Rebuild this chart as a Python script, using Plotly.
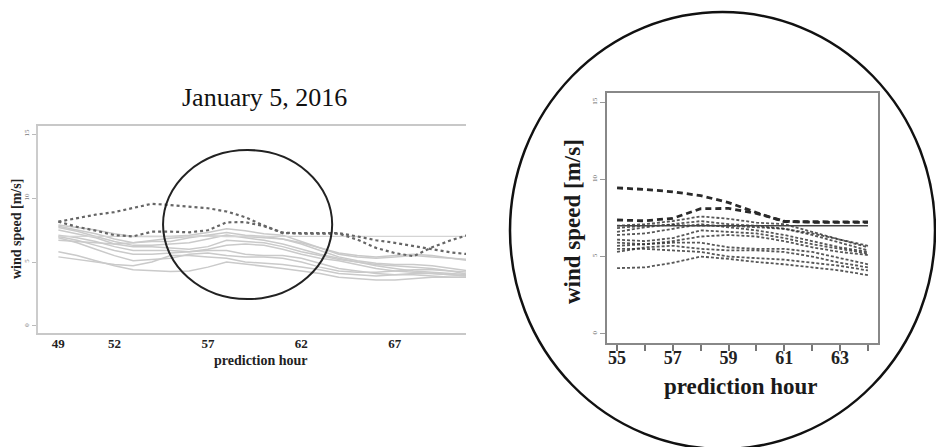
import plotly.graph_objects as go

# forecast lead times (hours)
hours = list(range(49, 73))

# ensemble members, wind speed [m/s]
member_01 = [7.9, 7.7, 7.5, 7.2, 7.0, 7.0, 7.0, 7.1, 7.3, 7.6, 7.45, 7.2, 7.1, 6.6, 6.1, 5.6, 5.4, 5.3, 5.4, 5.5, 5.4, 5.3, 5.2, 5.1]
member_02 = [7.8, 7.5, 7.2, 6.8, 6.5, 6.6, 6.6, 6.9, 7.1, 7.3, 7.1, 7.0, 6.8, 6.4, 5.9, 5.4, 5.1, 4.9, 4.8, 4.8, 4.7, 4.5, 4.3, 4.2]
member_03 = [7.7, 7.4, 7.0, 6.6, 6.3, 6.3, 6.4, 6.5, 6.8, 7.1, 6.9, 6.7, 6.4, 6.0, 5.6, 5.3, 5.0, 4.8, 4.7, 4.6, 4.5, 4.3, 4.0, 3.9]
member_04 = [7.5, 7.2, 6.9, 6.4, 6.2, 6.2, 6.1, 6.0, 6.2, 6.7, 6.6, 6.5, 6.2, 5.8, 5.5, 5.2, 5.0, 4.7, 4.5, 4.3, 4.2, 4.1, 4.0, 3.9]
member_05 = [7.1, 6.9, 6.6, 6.2, 5.9, 5.9, 5.9, 5.8, 6.0, 6.3, 6.4, 6.3, 6.0, 5.6, 5.3, 5.1, 4.8, 4.5, 4.3, 4.2, 4.1, 4.0, 3.9, 3.9]
member_06 = [7.0, 6.7, 6.3, 5.9, 5.6, 5.6, 5.7, 5.8, 5.9, 5.9, 5.6, 5.5, 5.5, 5.3, 4.9, 4.5, 4.3, 4.1, 4.0, 4.0, 3.9, 3.8, 3.8, 3.7]
member_07 = [6.9, 6.5, 6.0, 5.5, 5.1, 5.2, 5.3, 5.6, 5.7, 5.5, 5.4, 5.4, 5.3, 5.0, 4.6, 4.3, 4.2, 4.2, 4.3, 4.4, 4.4, 4.3, 4.2, 4.1]
member_08 = [5.8, 5.5, 5.1, 4.7, 4.4, 4.3, 4.25, 4.3, 4.6, 5.0, 4.85, 4.65, 4.5, 4.3, 4.1, 3.8, 3.7, 3.6, 3.6, 3.7, 3.8, 3.8, 3.8, 3.8]
member_09 = [5.4, 5.2, 5.0, 4.8, 4.7, 5.0, 5.5, 5.5, 5.4, 5.3, 5.0, 4.9, 4.8, 4.6, 4.4, 4.1, 4.0, 3.9, 4.0, 4.1, 4.1, 4.0, 3.9, 3.8]
member_10 = [6.7, 6.6, 6.5, 6.4, 6.5, 6.7, 6.85, 7.0, 7.05, 7.0, 7.0, 6.9, 6.8, 6.5, 6.1, 5.7, 5.5, 5.4, 5.5, 5.6, 5.5, 5.3, 5.1, 5.0]
members = [member_01, member_02, member_03, member_04, member_05,
           member_06, member_07, member_08, member_09, member_10]

# the two highlighted members
highlight_a = [8.15, 8.45, 8.7, 8.9, 9.2, 9.55, 9.45, 9.35, 9.2, 8.95, 8.5, 7.85, 7.26, 7.25, 7.25, 7.25, 7.0, 6.7, 6.5, 6.25, 5.95, 5.75, 5.6, 5.5]
highlight_b = [8.15, 7.75, 7.45, 7.1, 7.0, 7.37, 7.37, 7.32, 7.48, 8.1, 8.12, 7.8, 7.3, 7.22, 7.22, 7.22, 6.75, 6.1, 5.7, 5.45, 6.15, 6.7, 7.15, 7.6]

# reference wind speed
threshold = 7.0

# axis ticks
left_ticks = [49, 52, 57, 62, 67]
right_ticks = list(range(55, 65))
right_labels = ["55", "", "57", "", "59", "", "61", "", "63", ""]
y_ticks = [0, 5, 10, 15]

# zoomed window
zoom_lo, zoom_hi = 55, 64
i0, i1 = hours.index(zoom_lo), hours.index(zoom_hi) + 1
zoom_hours = hours[i0:i1]

W, H = 936, 447
SERIF = "Liberation Serif"


def px_x(p):
    return p / W


def px_y(p):
    return 1 - p / H


fig = go.Figure()

# ---- full forecast panel ----
for m in members:
    fig.add_trace(go.Scatter(x=hours, y=m, mode="lines", xaxis="x", yaxis="y",
                             line=dict(color="#cacaca", width=1.5), showlegend=False,
                             hoverinfo="skip"))
fig.add_trace(go.Scatter(x=[hours[0], hours[-1]], y=[threshold, threshold], mode="lines",
                         xaxis="x", yaxis="y", line=dict(color="#d4d4d4", width=1.4),
                         showlegend=False, hoverinfo="skip"))
for h in (highlight_a, highlight_b):
    fig.add_trace(go.Scatter(x=hours, y=h, mode="lines", xaxis="x", yaxis="y",
                             line=dict(color="#666666", width=2.2, dash="3px,3px"),
                             showlegend=False, hoverinfo="skip"))

# ---- zoomed panel ----
for m in members:
    fig.add_trace(go.Scatter(x=zoom_hours, y=m[i0:i1], mode="lines", xaxis="x2", yaxis="y2",
                             line=dict(color="rgba(45,45,45,0.8)", width=1.8, dash="3px,2px"),
                             showlegend=False, hoverinfo="skip"))
fig.add_trace(go.Scatter(x=[zoom_lo, zoom_hi], y=[threshold, threshold], mode="lines",
                         xaxis="x2", yaxis="y2", line=dict(color="#444444", width=1.6),
                         showlegend=False, hoverinfo="skip"))
for h in (highlight_a, highlight_b):
    fig.add_trace(go.Scatter(x=zoom_hours, y=h[i0:i1], mode="lines", xaxis="x2", yaxis="y2",
                             line=dict(color="#2a2a2a", width=2.8, dash="6px,4px"),
                             showlegend=False, hoverinfo="skip"))

axis_common = dict(showgrid=False, zeroline=False, showline=True)

fig.update_layout(
    width=W, height=H,
    margin=dict(l=0, r=0, t=0, b=0),
    paper_bgcolor="white", plot_bgcolor="white",
    font=dict(family=SERIF, color="#222222"),
    xaxis=dict(domain=[px_x(38), px_x(466)], range=[47.91, 70.81], anchor="y",
               tickvals=left_ticks, ticktext=[f"<b>{t}</b>" for t in left_ticks],
               ticks="", ticklabelstandoff=-3,
               tickfont=dict(size=13, family=SERIF, color="#222"),
               linecolor="#c8c8c8", linewidth=2, mirror=True, **axis_common),
    yaxis=dict(domain=[px_y(333), px_y(126)], range=[-0.55, 15.63], anchor="x",
               tickvals=y_ticks, ticks="outside", ticklen=4, tickcolor="#bbbbbb",
               tickangle=-90, tickfont=dict(size=7, family=SERIF, color="#777"),
               linecolor="#cccccc", linewidth=2, mirror=False, **axis_common),
    xaxis2=dict(domain=[px_x(607), px_x(878)], range=[54.64, 64.36], anchor="y2",
                tickvals=right_ticks, ticktext=[f"<b>{t}</b>" if t else "" for t in right_labels],
                ticks="outside", ticklen=6, tickcolor="#777777", tickwidth=1.5,
                ticklabelstandoff=-8,
                tickfont=dict(size=18, family=SERIF, color="#222"),
                linecolor="#888888", linewidth=1.5, mirror=True, **axis_common),
    yaxis2=dict(domain=[px_y(343), px_y(93)], range=[-0.6, 15.6], anchor="x2",
                tickvals=y_ticks, ticks="outside", ticklen=5, tickcolor="#999999",
                tickangle=-90, tickfont=dict(size=7, family=SERIF, color="#666"),
                linecolor="#888888", linewidth=1.5, mirror=True, **axis_common),
)

annotations = [
    dict(text="January 5, 2016", x=px_x(264.5), y=px_y(98), font=dict(size=26, family=SERIF, color="#111")),
    dict(text="<b>wind speed [m/s]</b>", x=px_x(17), y=px_y(229), textangle=-90,
         font=dict(size=14, family=SERIF, color="#222")),
    dict(text="<b>prediction hour</b>", x=px_x(260), y=px_y(360),
         font=dict(size=14, family=SERIF, color="#222")),
    dict(text="<b>wind speed [m/s]</b>", x=px_x(573), y=px_y(222), textangle=-90,
         font=dict(size=23, family=SERIF, color="#1a1a1a")),
    dict(text="<b>prediction hour</b>", x=px_x(741), y=px_y(386),
         font=dict(size=23, family=SERIF, color="#1a1a1a")),
]
for a in annotations:
    a.update(xref="paper", yref="paper", showarrow=False, xanchor="center", yanchor="middle")
    fig.add_annotation(**a)

# highlight ellipse around the zoomed window, and the magnifier circle
fig.add_shape(type="circle", xref="x", yref="y", x0=54.6, x1=63.65, y0=2.1, y1=13.75,
              line=dict(color="#222222", width=2))
fig.add_shape(type="circle", xref="paper", yref="paper",
              x0=px_x(510), x1=px_x(935), y0=px_y(449), y1=px_y(12),
              line=dict(color="#111111", width=2.5))

fig.write_html("out.html")
